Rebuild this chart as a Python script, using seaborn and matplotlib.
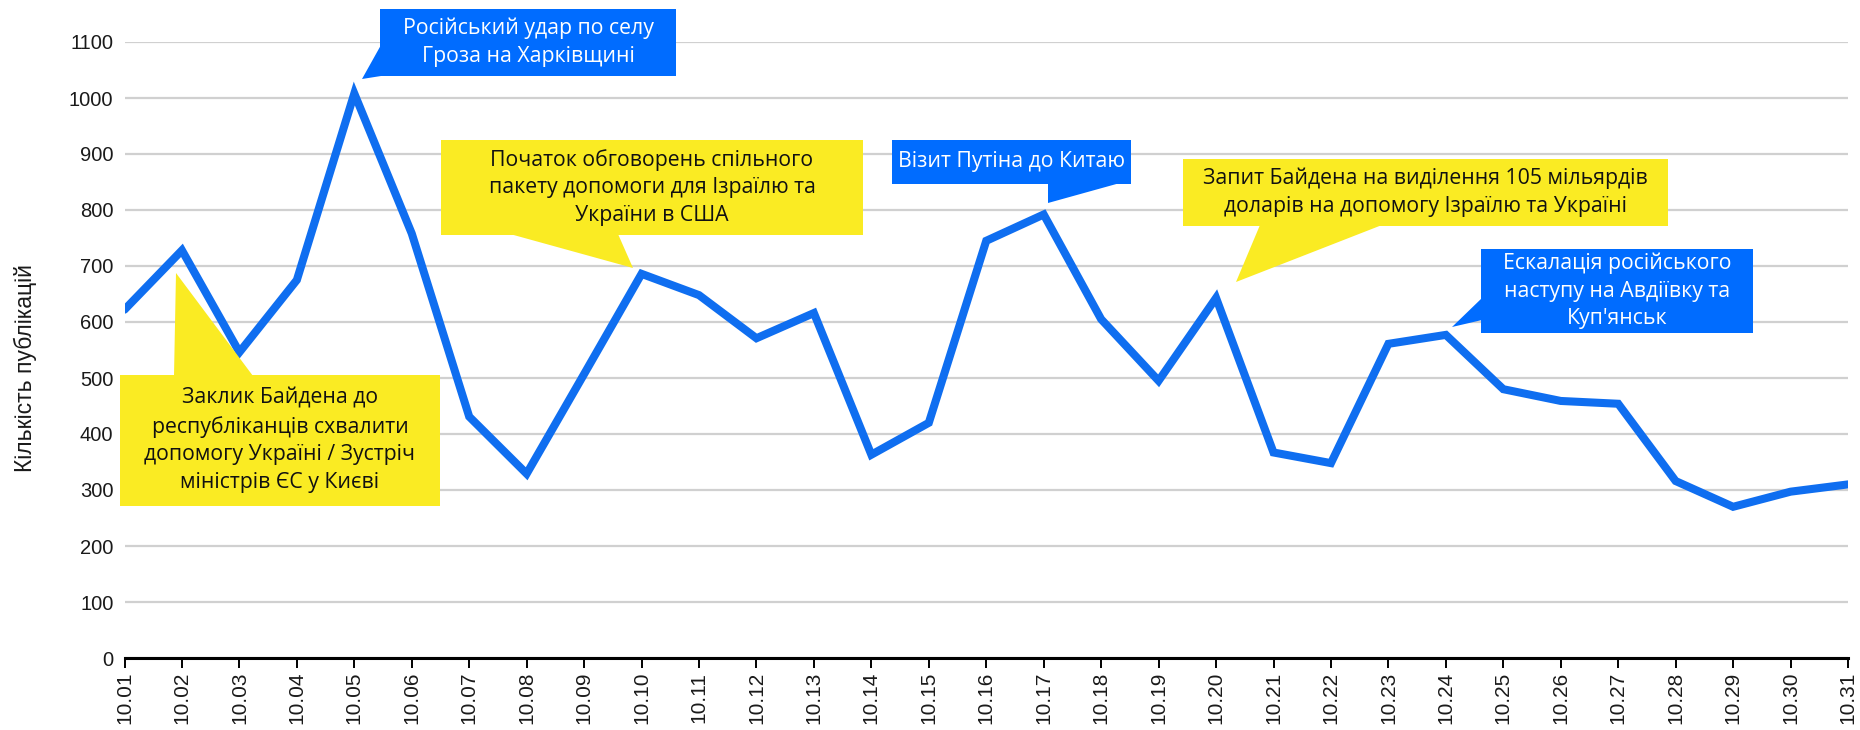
import numpy as np
import pandas as pd
import matplotlib
matplotlib.use("Agg")
import matplotlib.pyplot as plt
import seaborn as sns
from matplotlib.patches import Rectangle, Polygon

# ---------------- data ----------------
dates = ["10.01", "10.02", "10.03", "10.04", "10.05", "10.06", "10.07", "10.08",
         "10.09", "10.10", "10.11", "10.12", "10.13", "10.14", "10.15", "10.16",
         "10.17", "10.18", "10.19", "10.20", "10.21", "10.22", "10.23", "10.24",
         "10.25", "10.26", "10.27", "10.28", "10.29", "10.30", "10.31"]
publications = [622, 728, 546, 675, 1008, 758, 431, 329, 507, 686, 648, 571,
                616, 363, 420, 745, 792, 605, 495, 643, 367, 348, 561, 577,
                480, 459, 454, 316, 270, 297, 310]
y_ticks = [0, 100, 200, 300, 400, 500, 600, 700, 800, 900, 1000, 1100]
y_label = "Кількість публікацій"

callout_texts = [
    "Російський удар по селу\nГроза на Харківщині",
    "Заклик Байдена до\nреспубліканців схвалити\nдопомогу Україні / Зустріч\nміністрів ЄС у Києві",
    "Початок обговорень спільного\nпакету допомоги для Ізраїлю та\nУкраїни в США",
    "Візит Путіна до Китаю",
    "Запит Байдена на виділення 105 мільярдів\nдоларів на допомогу Ізраїлю та Україні",
    "Ескалація російського\nнаступу на Авдіївку та\nКуп'янськ",
]
callout_kinds = ["blue", "yellow", "yellow", "blue", "yellow", "blue"]

# ---------------- layout (pixel geometry of callouts, top-left origin) ----------------
W, H = 1860, 730
boxes_px = [
    (380, 9, 676, 76),
    (120, 375, 440, 506),
    (441, 140, 863, 235),
    (892, 140, 1131, 184),
    (1183, 159, 1668, 226),
    (1481, 249, 1753, 333),
]
pointers_px = [
    [(381, 45), (381, 76), (362, 79)],
    [(174, 376), (176, 273), (253, 376)],
    [(510, 234), (633, 268), (618, 234)],
    [(1048, 183), (1120, 183), (1048, 203)],
    [(1260, 225), (1382, 225), (1236, 282)],
    [(1482, 298), (1452, 327), (1482, 320)],
]

BLUE_LINE = "#0F6EF0"
BLUE_BOX = "#006CFF"
YELLOW = "#FAEB23"

sns.set_theme(style="white")
plt.rcParams["font.family"] = ["Liberation Sans", "DejaVu Sans"]

fig = plt.figure(figsize=(W / 100, H / 100), dpi=100)
left, right = 124.5 / W, 1848 / W
bottom, top = 1 - 658 / H, 1 - 42 / H
ax = fig.add_axes([left, bottom, right - left, top - bottom])

x = np.arange(len(dates))
df = pd.DataFrame({"x": x, "value": publications})
sns.lineplot(data=df, x="x", y="value", ax=ax, color=BLUE_LINE, linewidth=5.8,
             zorder=3)
for ln in ax.lines:
    ln.set_solid_joinstyle("miter")

ax.set_xlim(0, len(dates) - 1)
ax.set_ylim(0, 1100)
ax.set_yticks(y_ticks)
ax.set_yticklabels([str(t) for t in y_ticks], fontsize=14.5, color="#1a1a1a")
ax.set_xticks(x)
ax.set_xticklabels(dates, rotation=90, fontsize=15, color="#1a1a1a")

ax.grid(axis="y", color="#d0d0d0", linewidth=1.6, zorder=0)
ax.set_axisbelow(True)
for s in ["left", "right", "top"]:
    ax.spines[s].set_visible(False)
ax.spines["bottom"].set_color("black")
ax.spines["bottom"].set_linewidth(2.2)
ax.spines["bottom"].set_zorder(4)
ax.tick_params(axis="x", direction="out", length=7, width=1.4, color="black",
               pad=3, bottom=True)
ax.tick_params(axis="y", length=0, pad=8)

ax.set_xlabel("")
ax.set_ylabel(y_label, fontsize=16.5, color="#1a1a1a")
ax.yaxis.set_label_coords(-0.051, 0.47)

# pixel (top-left origin) -> data coords
inv = ax.transData.inverted()
def p2d(px, py):
    return inv.transform((px, H - py))

for text, kind, (x0, y0, x1, y1), tri in zip(callout_texts, callout_kinds,
                                              boxes_px, pointers_px):
    fc = BLUE_BOX if kind == "blue" else YELLOW
    tc = "white" if kind == "blue" else "#111111"
    (dx0, dy1) = p2d(x0, y1)
    (dx1, dy0) = p2d(x1, y0)
    rect = Rectangle((dx0, dy1), dx1 - dx0, dy0 - dy1, facecolor=fc,
                     edgecolor="none", clip_on=False, zorder=6)
    ax.add_patch(rect)
    poly = Polygon([p2d(px, py) for px, py in tri], closed=True, facecolor=fc,
                   edgecolor="none", clip_on=False, zorder=6)
    ax.add_patch(poly)
    cx, cy = p2d((x0 + x1) / 2, (y0 + y1) / 2)
    ax.text(cx, cy, text, ha="center", va="center", color=tc, fontsize=15.3,
            family=["Open Sans", "DejaVu Sans"], linespacing=1.42,
            zorder=7, clip_on=False)

fig.savefig("out.png", dpi=100, facecolor="white")
